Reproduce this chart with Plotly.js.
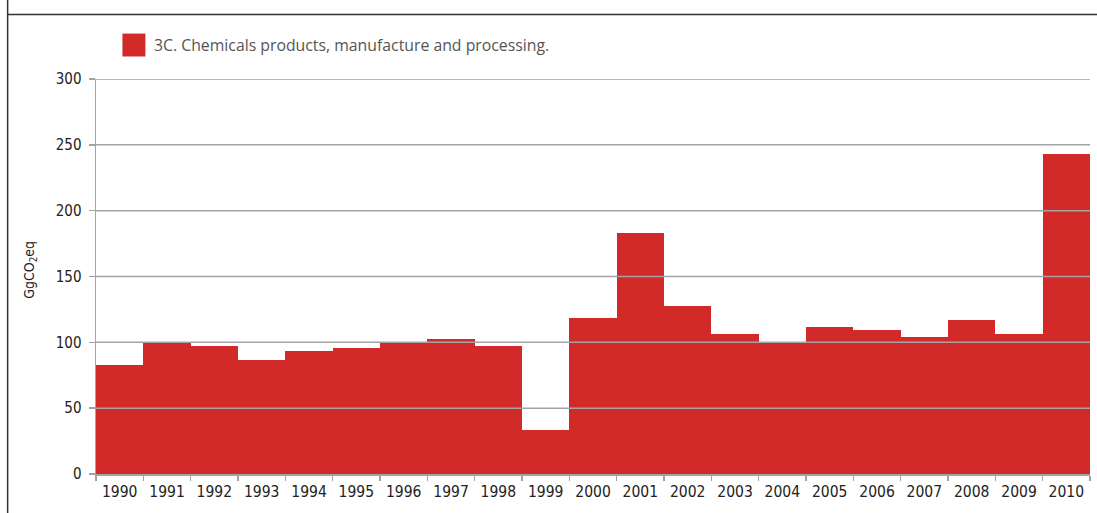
<!DOCTYPE html>
<html>
<head>
<meta charset="utf-8">
<script src="https://cdn.plot.ly/plotly-3.0.1.min.js"></script>
<style>html,body{margin:0;padding:0;background:#fff;}#chart{width:1097px;height:513px;}</style>
</head>
<body>
<div id="chart"></div>
<script>
const years = ['1990','1991','1992','1993','1994','1995','1996','1997','1998','1999','2000','2001','2002','2003','2004','2005','2006','2007','2008','2009','2010'];
const emissions = [83, 100.5, 97.5, 86.6, 93.4, 95.7, 100.2, 102.5, 97.3, 33.7, 118.7, 183.3, 127.6, 106, 100.5, 111.4, 109.2, 104, 117, 106.6, 243];
const yTicks = [0, 50, 100, 150, 200, 250, 300];
const seriesName = '3C. Chemicals products, manufacture and processing.';
const yTitle = 'GgCO<sub>2</sub>eq';

const barColor = '#d12a28';
const gridColor = '#a3a3a3';
const narrow = '"DejaVu Sans Condensed", "DejaVu Sans", sans-serif';

const trace = {
  type: 'bar',
  x: years,
  y: emissions,
  name: seriesName,
  marker: {color: barColor, line: {width: 0}},
  hoverinfo: 'x+y'
};

const shapes = [];
yTicks.filter(v => v > 0).forEach(v => {
  shapes.push({type: 'line', xref: 'paper', yref: 'y', x0: 0, x1: 1, y0: v, y1: v,
    line: {color: gridColor, width: 1.5}, layer: 'above'});
});
shapes.push({type: 'line', xref: 'paper', yref: 'paper', x0: -0.0889, x1: 1.01, y0: 1.163, y1: 1.163,
  line: {color: '#333333', width: 1.5}, layer: 'above'});
shapes.push({type: 'line', xref: 'paper', yref: 'paper', x0: -0.0889, x1: -0.0889, y0: 1.2, y1: -0.1,
  line: {color: '#333333', width: 1.5}, layer: 'above'});
shapes.push({type: 'rect', xref: 'paper', yref: 'paper', x0: 0.0266, x1: 0.0497, y0: 1.057, y1: 1.115,
  fillcolor: barColor, line: {width: 0}});

const layout = {
  width: 1097, height: 513,
  margin: {l: 95.5, r: 6.5, t: 78.5, b: 39, pad: 0},
  paper_bgcolor: '#ffffff',
  plot_bgcolor: '#ffffff',
  showlegend: false,
  bargap: 0,
  font: {family: narrow, color: '#222222', size: 16},
  xaxis: {
    type: 'category',
    tickson: 'boundaries',
    ticks: 'outside', ticklen: 5, tickcolor: gridColor, tickwidth: 1.5,
    showline: true, linecolor: gridColor, linewidth: 1.5,
    showgrid: false, zeroline: false,
    tickfont: {family: narrow, size: 15.5, color: '#222222'},
    ticklabelstandoff: 3,
    fixedrange: true
  },
  yaxis: {
    range: [0, 300],
    tickmode: 'array', tickvals: yTicks, ticktext: yTicks.map(String),
    ticks: 'outside', ticklen: 6, tickcolor: gridColor, tickwidth: 1.5,
    showline: true, linecolor: gridColor, linewidth: 1.5,
    showgrid: false, zeroline: false,
    tickfont: {family: narrow, size: 15, color: '#222222'},
    ticklabelstandoff: 4,
    fixedrange: true
  },
  shapes: shapes,
  annotations: [
    {xref: 'paper', yref: 'paper', x: 0.0568, y: 1.086, xanchor: 'left', yanchor: 'middle',
     text: seriesName, showarrow: false,
     font: {family: '"Open Sans", sans-serif', size: 15.8, color: '#555555'}},
    {xref: 'paper', yref: 'paper', x: -0.0658, y: 0.516, xanchor: 'center', yanchor: 'middle',
     text: yTitle, textangle: -90, showarrow: false,
     font: {family: narrow, size: 14, color: '#222222'}}
  ]
};

Plotly.newPlot('chart', [trace], layout, {displayModeBar: false, staticPlot: true});
</script>
</body>
</html>
